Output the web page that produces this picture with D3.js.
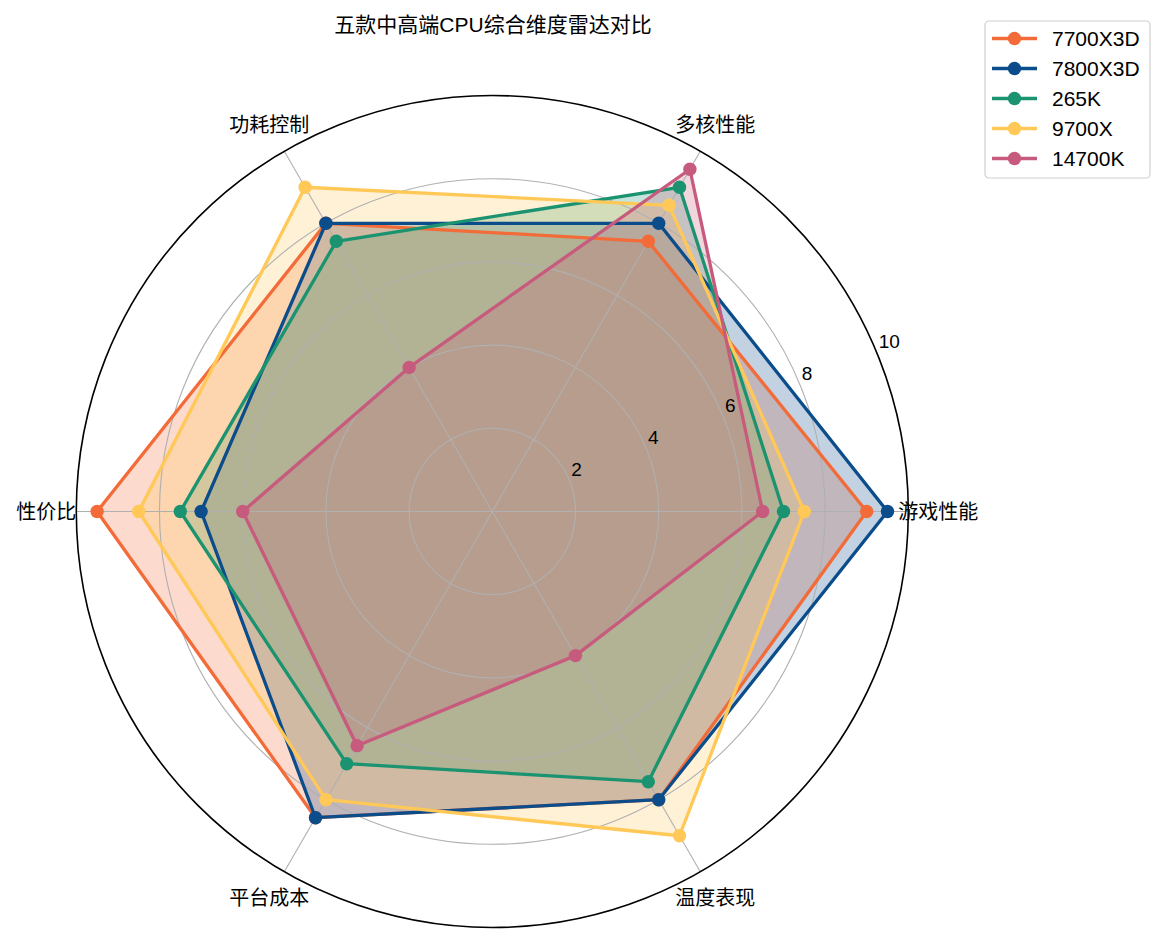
<!DOCTYPE html>
<html><head><meta charset="utf-8">
<script src="https://cdn.jsdelivr.net/npm/d3@7"></script>
<style>
body{margin:0;background:#fff;}
text{font-family:"Liberation Sans","Noto Sans CJK SC",Arial,sans-serif;}
</style></head>
<body>
<svg id="chart" width="1163" height="943"></svg>
<script>
const categories = ["游戏性能","多核性能","功耗控制","性价比","平台成本","温度表现"];
const seriesNames = ["7700X3D","7800X3D","265K","9700X","14700K"];
const values7700X3D = [9.0, 7.5, 8.0, 9.5, 8.5, 8.0];
const values7800X3D = [9.5, 8.0, 8.0, 7.0, 8.5, 8.0];
const values265K    = [7.0, 9.0, 7.5, 7.5, 7.0, 7.5];
const values9700X   = [7.5, 8.5, 9.0, 8.5, 8.0, 9.0];
const values14700K  = [6.5, 9.5, 4.0, 6.0, 6.5, 4.0];
const seriesValues = [values7700X3D, values7800X3D, values265K, values9700X, values14700K];
const colors = ["#F26B38","#0B4C8A","#1B9370","#FFC857","#C75B7D"];
const radialTicks = [2,4,6,8,10];
const title = "五款中高端CPU综合维度雷达对比";

const svg = d3.select("#chart");
const cx = 492.3, cy = 511.5, R = 416;
const r = d3.scaleLinear().domain([0,10]).range([0,R]);
const n = categories.length;
const ang = d3.scaleLinear().domain([0,n]).range([Math.PI/2, Math.PI/2 - 2*Math.PI]);
const g = svg.append("g").attr("transform",`translate(${cx},${cy})`);

const line = d3.lineRadial().angle((d,i)=>ang(i)).radius(d=>r(d)).curve(d3.curveLinearClosed);

// fills first (patches)
seriesValues.forEach((vals,k)=>{
  g.append("path").attr("d", line(vals)).attr("fill", colors[k]).attr("fill-opacity",0.25).attr("stroke","none");
});

// grid circles
g.selectAll("circle.grid").data(radialTicks.slice(0,-1)).join("circle").attr("class","grid")
  .attr("r", d=>r(d)).attr("fill","none").attr("stroke","#b0b0b0").attr("stroke-width",1.1);
// spokes
g.selectAll("line.spoke").data(d3.range(n)).join("line").attr("class","spoke")
  .attr("x1",0).attr("y1",0)
  .attr("x2", i=>R*Math.sin(ang(i))).attr("y2", i=>-R*Math.cos(ang(i)))
  .attr("stroke","#b0b0b0").attr("stroke-width",1.1);

// lines + markers
seriesValues.forEach((vals,k)=>{
  const s = g.append("g");
  s.append("path").attr("d", line(vals)).attr("fill","none").attr("stroke",colors[k]).attr("stroke-width",3.3).attr("stroke-linejoin","round");
  s.selectAll("circle").data(vals).join("circle")
    .attr("cx",(d,i)=>r(d)*Math.sin(ang(i))).attr("cy",(d,i)=>-r(d)*Math.cos(ang(i)))
    .attr("r",6.7).attr("fill",colors[k]);
});

// outer circle
g.append("circle").attr("r",R).attr("fill","none").attr("stroke","#000").attr("stroke-width",1.6);

// radial tick labels at 22.5deg
const la = Math.PI/2 - Math.PI/8;
g.selectAll("text.rt").data(radialTicks).join("text").attr("class","rt")
  .attr("x", d=>r(d)*Math.sin(la)+2).attr("y", d=>-r(d)*Math.cos(la)-4)
  .attr("text-anchor","start").attr("font-size",19).attr("fill","#000")
  .text(d=>d);

// category labels
const LR = 446;
g.selectAll("text.cat").data(categories).join("text").attr("class","cat")
  .attr("x",(d,i)=>LR*Math.sin(ang(i))).attr("y",(d,i)=>-LR*Math.cos(ang(i)))
  .attr("text-anchor","middle").attr("dominant-baseline","central")
  .attr("font-size",20).attr("fill","#000").text(d=>d);

// title
svg.append("text").attr("x",493).attr("y",32).attr("text-anchor","middle")
  .attr("font-size",21).attr("fill","#000").text(title);

// legend
const lg = svg.append("g").attr("transform","translate(985,21)");
lg.append("rect").attr("x",0).attr("y",0).attr("width",165).attr("height",157).attr("rx",4)
  .attr("fill","#fff").attr("fill-opacity",0.8).attr("stroke","#d0d0d0").attr("stroke-width",1.2);
seriesNames.forEach((name,k)=>{
  const y = 17.5 + k*30;
  lg.append("line").attr("x1",7).attr("x2",52).attr("y1",y).attr("y2",y).attr("stroke",colors[k]).attr("stroke-width",3.3);
  lg.append("circle").attr("cx",29.5).attr("cy",y).attr("r",6.7).attr("fill",colors[k]);
  lg.append("text").attr("x",67).attr("y",y).attr("dominant-baseline","central").attr("font-size",21).attr("fill","#000").text(name);
});
</script>
</body></html>
